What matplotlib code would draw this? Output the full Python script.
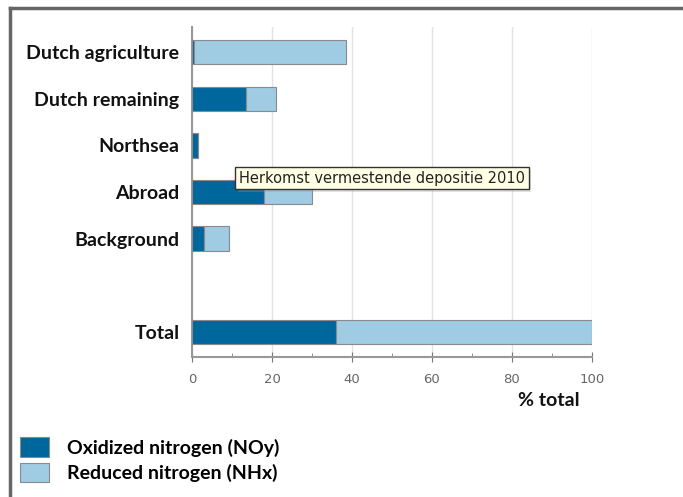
import matplotlib.pyplot as plt
import matplotlib.patheffects as pe

# Sources of nitrogen deposition (% of total)
categories = ["Dutch agriculture", "Dutch remaining", "Northsea", "Abroad", "Background", "Total"]
positions = [0, 1, 2, 3, 4, 6]
oxidized = [0.5, 13.5, 1.5, 18, 3, 36]
reduced = [38, 7.5, 0, 12, 6.3, 64]

dark = "#00679c"
light = "#9fcbe3"
label_font = {"family": "Lato", "weight": "bold", "size": 14}

fig = plt.figure(figsize=(6.83, 4.97), dpi=100)
ax = fig.add_axes([192 / 683, 1 - 357 / 497, 400 / 683, 330 / 497])

b1 = ax.barh(positions, oxidized, height=0.52, color=dark, edgecolor="#8a8a8a", linewidth=0.8,
             label="Oxidized nitrogen (NOy)", zorder=3)
b2 = ax.barh(positions, reduced, left=oxidized, height=0.52, color=light, edgecolor="#8a8a8a",
             linewidth=0.8, label="Reduced nitrogen (NHx)", zorder=3)

ax.set_xlim(0, 100)
ax.set_ylim(6.54, -0.54)
ax.set_yticks(positions)
ax.set_yticklabels(categories, fontdict=label_font, color="#111111")
ax.tick_params(axis="y", length=0, pad=9)

ax.set_xticks([0, 20, 40, 60, 80, 100])
ax.set_xticks([10, 30, 50, 70, 90], minor=True)
ax.tick_params(axis="x", which="major", direction="inout", length=7, color="#777777",
               labelsize=9.5, labelcolor="#666666", pad=8)
ax.tick_params(axis="x", which="minor", direction="in", length=3, color="#777777")
ax.grid(axis="x", color="#e3e3e3", linewidth=1, zorder=0)

for side in ["top", "right"]:
    ax.spines[side].set_visible(False)
for side in ["left", "bottom"]:
    ax.spines[side].set_color("#999999")
    ax.spines[side].set_linewidth(1.5)

fig.text(580 / 683, 1 - 400 / 497, "% total", ha="right", va="center",
         fontdict=label_font, color="#111111")

fig.legend(handles=[b1, b2], loc="upper left", bbox_to_anchor=(0.004, 0.155), frameon=False,
           prop=label_font, handlelength=1.5, handleheight=1.15, handletextpad=0.9, labelspacing=0.3)

# tooltip box
tip = fig.text(382 / 683, 1 - 178 / 497, "Herkomst vermestende depositie 2010", ha="center", va="center",
               fontfamily="DejaVu Sans", fontsize=10.5, color="#222222",
               bbox=dict(boxstyle="square,pad=0.25", facecolor="#ffffe6", edgecolor="#333333", linewidth=1))
tip.get_bbox_patch().set_path_effects([pe.withSimplePatchShadow(offset=(2, -2), shadow_rgbFace="#999999")])

# outer frame (top and left edges)
fig.add_artist(plt.Line2D([9.5 / 683, 9.5 / 683], [0, 1 - 8 / 497], transform=fig.transFigure,
                          color="#666666", linewidth=2.5))
fig.add_artist(plt.Line2D([9.5 / 683, 1], [1 - 8 / 497, 1 - 8 / 497], transform=fig.transFigure,
                          color="#666666", linewidth=2.5))

fig.savefig("out.png", dpi=100)
